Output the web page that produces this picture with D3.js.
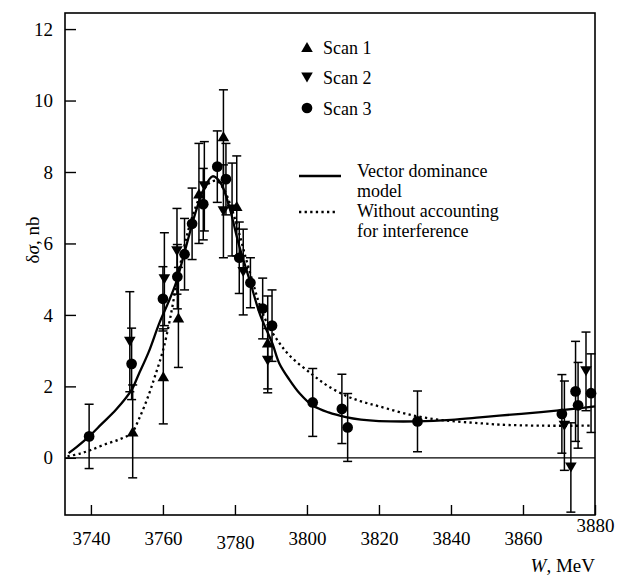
<!DOCTYPE html>
<html>
<head>
<meta charset="utf-8">
<script src="https://cdn.jsdelivr.net/npm/d3@7"></script>
<style>
  html, body { margin: 0; padding: 0; background: #fff; }
  svg { display: block; }
  text { font-family: "Liberation Serif", "Times New Roman", serif; fill: #000; }
</style>
</head>
<body>
<svg id="chart" width="618" height="579"></svg>
<script>
// Measured points: [W (MeV), delta sigma (nb), error (nb)]
const scan1 = [
  [3751.6, 0.74, 1.3], [3760.1, 2.28, 1.33], [3764.3, 3.93, 1.4],
  [3770.0, 7.4, 1.4], [3776.8, 9.0, 1.3], [3780.5, 7.05, 1.4], [3789.1, 3.23, 1.3]
];
const scan2 = [
  [3750.8, 3.25, 1.4], [3760.4, 5.0, 1.3], [3763.9, 5.78, 1.2],
  [3771.5, 7.6, 1.25], [3776.8, 6.9, 1.3], [3779.2, 6.95, 1.3],
  [3782.3, 5.2, 1.2], [3789.1, 2.72, 0.9],
  [3871.5, 0.9, 1.25], [3873.3, -0.27, 1.25], [3877.5, 2.42, 1.1]
];
const scan3 = [
  [3739.5, 0.6, 0.9], [3751.3, 2.63, 1.0], [3760.0, 4.45, 0.9],
  [3764.0, 5.07, 0.9], [3766.0, 5.7, 1.0], [3768.1, 6.55, 1.0],
  [3771.2, 7.1, 1.0], [3775.1, 8.15, 1.0], [3777.5, 7.8, 1.0],
  [3781.2, 5.6, 1.0], [3784.3, 4.9, 0.7], [3787.7, 4.18, 0.85],
  [3790.3, 3.7, 1.0], [3801.6, 1.55, 0.95], [3809.7, 1.37, 0.97],
  [3811.3, 0.85, 0.95], [3830.7, 1.02, 0.85], [3870.8, 1.23, 1.1],
  [3874.6, 1.86, 1.4], [3875.3, 1.47, 1.2], [3878.9, 1.81, 1.1]
];

// Model curves: [W (MeV), delta sigma (nb)]
const vdmCurve = [
  [3733.8, 0.13], [3736, 0.3], [3739.5, 0.6], [3743, 0.95], [3747, 1.35],
  [3751.3, 1.9], [3753.1, 2.3], [3756, 2.95], [3759, 3.77], [3761.5, 4.35],
  [3763.6, 4.89], [3766, 5.75], [3769, 6.85], [3771.5, 7.55], [3773.8, 7.88],
  [3776, 7.7], [3778.5, 7.0], [3781, 6.0], [3784.3, 4.9], [3787, 4.0],
  [3790.4, 3.2], [3792.3, 2.65], [3795.1, 2.19], [3798, 1.8], [3801.5, 1.47],
  [3806, 1.27], [3810.8, 1.14], [3815, 1.07], [3820, 1.03], [3830.6, 1.02],
  [3840, 1.06], [3848, 1.13], [3853.4, 1.18], [3865, 1.28], [3872, 1.35], [3880, 1.44]
];
const noInterfCurve = [
  [3733.5, 0.04], [3737, 0.12], [3740, 0.22], [3744, 0.38], [3748, 0.52],
  [3751.3, 0.7], [3753.4, 1.1], [3756, 1.75], [3758, 2.35], [3760, 3.0],
  [3762, 3.9], [3764, 5.0], [3766, 5.95], [3768, 6.7], [3770.5, 7.35],
  [3773, 7.7], [3775, 7.75], [3777, 7.5], [3779, 7.0], [3781, 6.35],
  [3783, 5.6], [3785, 4.9], [3786.8, 4.3], [3789, 3.75], [3791.4, 3.35],
  [3795.1, 2.87], [3801.5, 2.33], [3806, 2.0], [3810.8, 1.74], [3815, 1.58],
  [3820.1, 1.44], [3829.3, 1.19], [3838, 1.05], [3847.9, 0.97], [3853.4, 0.93],
  [3865, 0.9], [3878.6, 0.9]
];

const xTicks = [3740, 3760, 3780, 3800, 3820, 3840, 3860, 3880];
const yTicks = [0, 2, 4, 6, 8, 10, 12];
const legendScans = ["Scan 1", "Scan 2", "Scan 3"];
const legendCurves = [["Vector dominance", "model"], ["Without accounting", "for interference"]];

const svg = d3.select("#chart");
const m = { left: 65, top: 13, right: 23, bottom: 64 };
const W = 618 - m.left - m.right, H = 579 - m.top - m.bottom;

const x = d3.scaleLinear().domain([3732.8, 3880]).range([0, W]);
const y = d3.scaleLinear().domain([-1.6, 12.45]).range([H, 0]);

const g = svg.append("g").attr("transform", `translate(${m.left},${m.top})`);

// axes with inward ticks
const xAxis = g.append("g").attr("transform", `translate(0,${H})`)
  .call(d3.axisBottom(x).tickValues(xTicks).tickFormat(d3.format("d"))
    .tickSizeInner(-10).tickSizeOuter(0).tickPadding(17));
const yAxis = g.append("g")
  .call(d3.axisLeft(y).tickValues(yTicks).tickFormat(d3.format("d"))
    .tickSizeInner(-11).tickSizeOuter(0).tickPadding(12));
[xAxis, yAxis].forEach(a => {
  a.select(".domain").remove();
  a.selectAll("line").attr("stroke", "#000").attr("stroke-width", 1.4);
  a.selectAll("text").style("font-size", "19px").style("font-family", "Liberation Serif, serif");
});
xAxis.selectAll(".tick text").attr("dy", d => d === 3880 ? "0.0em" : (d === 3780 ? "0.88em" : "0.71em"));

// frame
g.append("rect").attr("width", W).attr("height", H)
  .attr("fill", "none").attr("stroke", "#000").attr("stroke-width", 1.6);

// zero line
g.append("line").attr("x1", 0).attr("x2", W).attr("y1", y(0)).attr("y2", y(0))
  .attr("stroke", "#000").attr("stroke-width", 1.3);

// model curves
const line = d3.line().x(d => x(d[0])).y(d => y(d[1])).curve(d3.curveCatmullRom.alpha(0.5));
g.append("path").datum(noInterfCurve).attr("d", line)
  .attr("fill", "none").attr("stroke", "#000").attr("stroke-width", 2.3)
  .attr("stroke-dasharray", "2.3 3.3");
g.append("path").datum(vdmCurve).attr("d", line)
  .attr("fill", "none").attr("stroke", "#000").attr("stroke-width", 2.3);

// error bars and markers
const capW = 4.5;
function drawScan(data, shape) {
  const grp = g.append("g");
  const eb = grp.selectAll(".eb").data(data).join("g");
  eb.append("line")
    .attr("x1", d => x(d[0])).attr("x2", d => x(d[0]))
    .attr("y1", d => y(d[1] - d[2])).attr("y2", d => y(d[1] + d[2]))
    .attr("stroke", "#000").attr("stroke-width", 1.5);
  [-1, 1].forEach(s => {
    eb.append("line")
      .attr("x1", d => x(d[0]) - capW).attr("x2", d => x(d[0]) + capW)
      .attr("y1", d => y(d[1] + s * d[2])).attr("y2", d => y(d[1] + s * d[2]))
      .attr("stroke", "#000").attr("stroke-width", 1.5);
  });
  grp.selectAll(".mk").data(data).join("path")
    .attr("d", shape)
    .attr("transform", d => `translate(${x(d[0])},${y(d[1])})`)
    .attr("fill", "#000");
}
const triDown = "M0,5L-5.8,-5L5.8,-5Z";
const triUpPath = "M0,-5L5.8,5L-5.8,5Z";
const circ = d3.symbol(d3.symbolCircle, 90)();
drawScan(scan1, triUpPath);
drawScan(scan2, triDown);
drawScan(scan3, circ);

// legend
const lg = svg.append("g");
const scanShapes = [triUpPath, triDown, circ];
legendScans.forEach((name, i) => {
  const cy = 47 + i * 30.5;
  lg.append("path").attr("d", scanShapes[i]).attr("transform", `translate(307,${cy})`).attr("fill", "#000");
  lg.append("text").attr("x", 323).attr("y", cy + 6.5).style("font-size", "18px").text(name);
});
const curveStyles = [null, "2.3 3.3"];
const legendRows = [[176, 177, 197], [212, 217, 237]];
legendCurves.forEach((lines, i) => {
  const [ly, b1, b2] = legendRows[i];
  const l = lg.append("line").attr("x1", 299).attr("x2", i === 0 ? 341 : 336)
    .attr("y1", ly).attr("y2", ly).attr("stroke", "#000").attr("stroke-width", 2.3);
  if (curveStyles[i]) l.attr("stroke-dasharray", curveStyles[i]);
  lines.forEach((t, j) => {
    lg.append("text").attr("x", 357).attr("y", j === 0 ? b1 : b2)
      .style("font-size", "18px").text(t);
  });
});

// axis titles
const yt = svg.append("text").attr("transform", "translate(39,240) rotate(-90)")
  .attr("text-anchor", "middle").style("font-size", "19px");
yt.append("tspan").text("δ");
yt.append("tspan").style("font-style", "italic").text("σ");
yt.append("tspan").text(", nb");

const xt = svg.append("text").attr("x", 595).attr("y", 572)
  .attr("text-anchor", "end").style("font-size", "19px");
xt.append("tspan").style("font-style", "italic").text("W");
xt.append("tspan").text(", MeV");
</script>
</body>
</html>
